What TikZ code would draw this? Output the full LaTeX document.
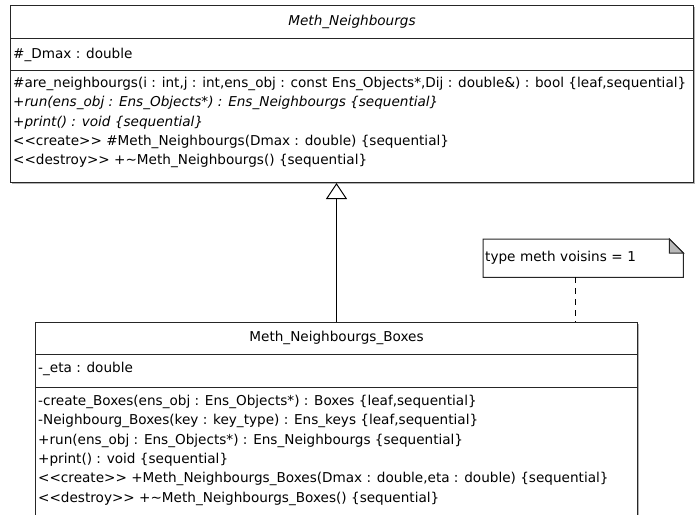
\documentclass[tikz,border=0pt]{standalone}
\usepackage{fontspec}
\setmainfont{DejaVu Sans}
\usetikzlibrary{arrows.meta,positioning,calc,shadows}

\newcommand{\umlfont}{\fontsize{13.6}{16}\selectfont}

\tikzset{
  umlclass/.style={draw=black!85, line width=1pt, fill=white, anchor=north west, inner sep=0pt,
    drop shadow={shadow xshift=1.5pt, shadow yshift=-1.5pt, opacity=0.3, fill=black}},
  umlsep/.style={draw=black!85, line width=1pt},
  umltitle/.style={inner sep=0pt},
  member/.style={anchor=base west, inner sep=0pt},
  notebox/.style={anchor=north west, minimum height=38, text width=196, inner xsep=2pt, align=left},
  noteline/.style={draw=black!85, line width=1pt, fill=white},
  generalization/.style={line width=1pt, -{Triangle[open, length=16pt, width=21pt, fill=white]}},
  notelink/.style={line width=1pt, dash pattern=on 6pt off 5pt}
}

\begin{document}
\begin{tikzpicture}[x=1pt,y=-1pt,font=\umlfont]
\clip (0,0) rectangle (695,514);

% abstract class
\node[umlclass, minimum width=683, minimum height=177] (base) at (10,5) {};
\draw[umlsep] ($(base.north west)+(0,33)$) -- ($(base.north east)+(0,33)$);
\draw[umlsep] ($(base.north west)+(0,65)$) -- ($(base.north east)+(0,65)$);
\node[umltitle, font=\umlfont\itshape] (basename) at ($(base.north)+(0,16.5)$) {Meth\_Neighbourgs};
\node[member] (baseattr) at ($(base.north west)+(3,53.5)$) {\#\_Dmax : double};
\foreach \op [count=\i] in {
  {\#are\_neighbourgs(i : int,j : int,ens\_obj : const Ens\_Objects*,Dij : double\&) : bool \{leaf,sequential\}},
  {\textit{+run(ens\_obj : Ens\_Objects*) : Ens\_Neighbourgs \{sequential\}}},
  {\textit{+print() : void \{sequential\}}},
  {{<}{<}create{>}{>} \#Meth\_Neighbourgs(Dmax : double) \{sequential\}},
  {{<}{<}destroy{>}{>} +\textasciitilde Meth\_Neighbourgs() \{sequential\}}}
  \node[member] (baseop\i) at ($(base.north west)+(3,{82.5+(\i-1)*19.3})$) {\op};

% derived class
\node[umlclass, minimum width=602, minimum height=220] (sub) at (35,322) {};
\draw[umlsep] ($(sub.north west)+(0,32)$) -- ($(sub.north east)+(0,32)$);
\draw[umlsep] ($(sub.north west)+(0,65)$) -- ($(sub.north east)+(0,65)$);
\node[umltitle] (subname) at ($(sub.north)+(0,16)$) {Meth\_Neighbourgs\_Boxes};
\node[member] (subattr) at ($(sub.north west)+(3,50.5)$) {-\_eta : double};
\foreach \op [count=\i] in {
  {-create\_Boxes(ens\_obj : Ens\_Objects*) : Boxes \{leaf,sequential\}},
  {-Neighbourg\_Boxes(key : key\_type) : Ens\_keys \{leaf,sequential\}},
  {+run(ens\_obj : Ens\_Objects*) : Ens\_Neighbourgs \{sequential\}},
  {+print() : void \{sequential\}},
  {{<}{<}create{>}{>} +Meth\_Neighbourgs\_Boxes(Dmax : double,eta : double) \{sequential\}},
  {{<}{<}destroy{>}{>} +\textasciitilde Meth\_Neighbourgs\_Boxes() \{sequential\}}}
  \node[member] (subop\i) at ($(sub.north west)+(3,{83.5+(\i-1)*19.3})$) {\op};

% note
\node[notebox] (note) at (483,239) {};
\draw[noteline] (note.north west) -- ($(note.north east)+(-14,0)$) -- ($(note.north east)+(0,14)$)
  -- (note.south east) -- (note.south west) -- cycle;
\filldraw[draw=black!85, line width=1pt, fill=gray!55] ($(note.north east)+(-14,0)$) -- ($(note.north east)+(-14,14)$)
  -- ($(note.north east)+(0,14)$) -- cycle;
\node[notebox] (notetext) at (note.north west) {type meth voisins = 1};

% connectors
\draw[generalization] (sub.north) -- (sub.north |- base.south);
\coordinate (notefoot) at ($(note.south)+(-8,0)$);
\draw[notelink] (notefoot) -- (notefoot |- sub.north);
\end{tikzpicture}
\end{document}
